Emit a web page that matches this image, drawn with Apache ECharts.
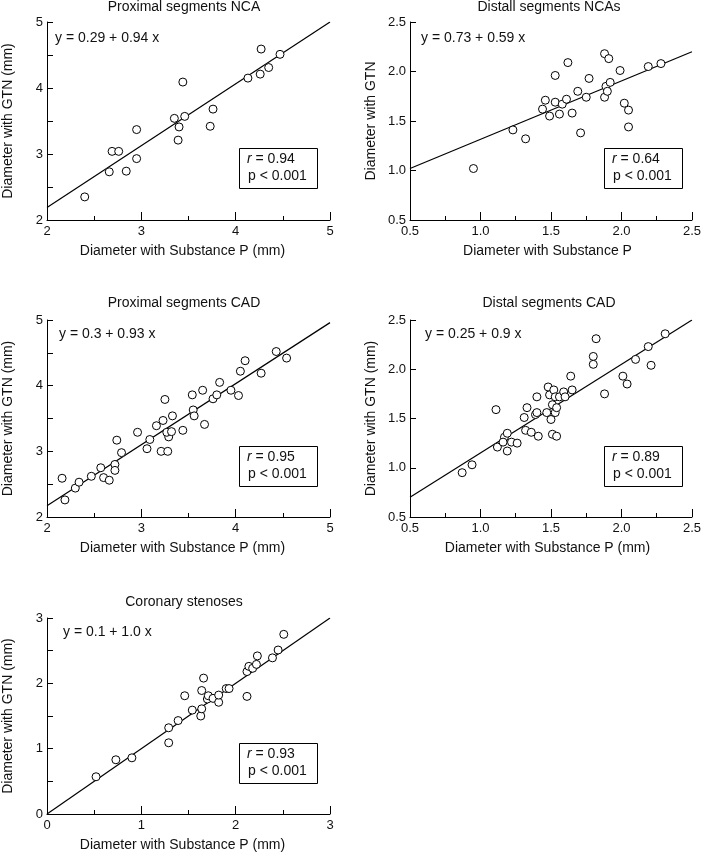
<!DOCTYPE html>
<html>
<head>
<meta charset="utf-8">
<script src="https://cdn.jsdelivr.net/npm/echarts@6/dist/echarts.min.js"></script>
<style>
html,body{margin:0;padding:0;background:#fff;}
#chart{width:704px;height:853px;}
</style>
</head>
<body>
<div id="chart"></div>
<script>
// ---- Data ----
const panelTitles = ['Proximal segments NCA', 'Distall segments NCAs', 'Proximal segments CAD', 'Distal segments CAD', 'Coronary stenoses'];
const xNames = ['Diameter with Substance P (mm)', 'Diameter with Substance P', 'Diameter with Substance P (mm)', 'Diameter with Substance P (mm)', 'Diameter with Substance P (mm)'];
const yNames = ['Diameter with GTN (mm)', 'Diameter with GTN', 'Diameter with GTN (mm)', 'Diameter with GTN (mm)', 'Diameter with GTN (mm)'];
const equations = ['y = 0.29 + 0.94 x', 'y = 0.73 + 0.59 x', 'y = 0.3 + 0.93 x', 'y = 0.25 + 0.9 x', 'y = 0.1 + 1.0 x'];
const rValues = ['0.94', '0.64', '0.95', '0.89', '0.93'];
const pValues = ['p < 0.001', 'p < 0.001', 'p < 0.001', 'p < 0.001', 'p < 0.001'];

const xMin = [2, 0.5, 2, 0.5, 0];
const xMax = [5, 2.5, 5, 2.5, 3];
const xStep = [1, 0.5, 1, 0.5, 1];
const yMin = [2, 0.5, 2, 0.5, 0];
const yMax = [5, 2.5, 5, 2.5, 3];
const yLabelStep = [1, 0.5, 1, 0.5, 1];
const labelDecimals = [0, 1, 0, 1, 0];

// drawn regression lines (endpoints)
const fitX = [[2, 5], [0.5, 2.5], [2, 5], [0.5, 2.5], [0, 3]];
const fitY = [[2.19, 5.0], [1.02, 2.2], [2.17, 4.96], [0.70, 2.5], [0.0, 3.0]];

// Panel 1: Proximal segments NCA
const p1x = [2.40, 2.66, 2.69, 2.76, 2.84, 2.95, 2.95, 3.35, 3.40, 3.39, 3.46, 3.44, 3.76, 3.73, 4.13, 4.26, 4.27, 4.35, 4.47];
const p1y = [2.35, 2.73, 3.04, 3.04, 2.74, 3.37, 2.93, 3.54, 3.41, 3.21, 3.57, 4.09, 3.68, 3.42, 4.15, 4.21, 4.59, 4.31, 4.51];

// Panel 2: Distall segments NCAs
const p2x = [0.95, 1.23, 1.32, 1.44, 1.46, 1.49, 1.53, 1.53, 1.56, 1.58, 1.61, 1.62, 1.65, 1.69, 1.71, 1.75, 1.77, 1.88, 1.88, 1.89, 1.90, 1.91, 1.92, 1.99, 2.02, 2.05, 2.05, 2.19, 2.28];
const p2y = [1.02, 1.41, 1.32, 1.62, 1.71, 1.55, 1.69, 1.96, 1.57, 1.67, 1.72, 2.09, 1.58, 1.80, 1.38, 1.74, 1.93, 1.74, 2.18, 1.85, 1.80, 2.13, 1.89, 2.01, 1.68, 1.61, 1.44, 2.05, 2.08];

// Panel 3: Proximal segments CAD
const p3x = [2.16, 2.19, 2.30, 2.34, 2.47, 2.57, 2.60, 2.66, 2.72, 2.72, 2.74, 2.79, 2.96, 3.06, 3.09, 3.16, 3.21, 3.23, 3.25, 3.28, 3.29, 3.27, 3.32, 3.33, 3.44, 3.54, 3.55, 3.56, 3.65, 3.67, 3.76, 3.80, 3.83, 3.95, 4.03, 4.05, 4.10, 4.27, 4.43, 4.54];
const p3y = [2.59, 2.26, 2.44, 2.53, 2.62, 2.75, 2.60, 2.56, 2.80, 2.71, 3.17, 2.98, 3.29, 3.04, 3.18, 3.39, 3.00, 3.47, 3.79, 3.00, 3.22, 3.29, 3.30, 3.54, 3.32, 3.86, 3.63, 3.54, 3.93, 3.41, 3.80, 3.86, 4.05, 3.93, 3.85, 4.22, 4.38, 4.19, 4.52, 4.42];

// Panel 4: Distal segments CAD
const p4x = [0.87, 0.94, 1.11, 1.12, 1.17, 1.16, 1.19, 1.19, 1.22, 1.26, 1.31, 1.33, 1.32, 1.36, 1.39, 1.40, 1.40, 1.41, 1.47, 1.48, 1.49, 1.50, 1.51, 1.51, 1.52, 1.53, 1.53, 1.54, 1.54, 1.56, 1.59, 1.60, 1.64, 1.65, 1.80, 1.80, 1.82, 1.88, 2.01, 2.04, 2.10, 2.19, 2.21, 2.31];
const p4y = [0.95, 1.03, 1.59, 1.21, 1.31, 1.26, 1.35, 1.17, 1.26, 1.25, 1.51, 1.61, 1.38, 1.36, 1.54, 1.72, 1.56, 1.32, 1.56, 1.82, 1.74, 1.49, 1.64, 1.34, 1.79, 1.72, 1.56, 1.61, 1.32, 1.72, 1.77, 1.72, 1.93, 1.79, 2.13, 2.05, 2.31, 1.75, 1.93, 1.85, 2.10, 2.23, 2.04, 2.36];

// Panel 5: Coronary stenoses
const p5x = [0.52, 0.73, 0.90, 1.29, 1.29, 1.39, 1.46, 1.54, 1.63, 1.64, 1.64, 1.66, 1.70, 1.71, 1.76, 1.82, 1.82, 1.90, 1.93, 2.12, 2.12, 2.14, 2.18, 2.22, 2.23, 2.39, 2.45, 2.51];
const p5y = [0.57, 0.83, 0.86, 1.32, 1.09, 1.43, 1.81, 1.59, 1.50, 1.61, 1.89, 2.08, 1.76, 1.81, 1.77, 1.71, 1.82, 1.92, 1.92, 1.80, 2.18, 2.26, 2.23, 2.29, 2.42, 2.39, 2.51, 2.75];

const panelX = [p1x, p2x, p3x, p4x, p5x];
const panelY = [p1y, p2y, p3y, p4y, p5y];

// ---- Layout ----
const gridLeft = [45, 410, 45, 410, 45];
const gridTop = [22, 22, 320, 320, 618];
const gridW = 285;
const gridH = [198, 198, 197, 197, 196];
const FONT = '"Liberation Sans", Arial, Helvetica, sans-serif';
const TXT = '#111';

const grids = [], xAxes = [], yAxes = [], series = [], graphics = [];

for (let i = 0; i < 5; i++) {
  grids.push({ left: gridLeft[i], top: gridTop[i], width: gridW, height: gridH[i], containLabel: false });
  const dec = labelDecimals[i];
  const xs = xStep[i];
  const ys = yLabelStep[i];
  xAxes.push({
    type: 'value', gridIndex: i, min: xMin[i], max: xMax[i], interval: xs,
    name: xNames[i], nameLocation: 'middle', nameGap: 24,
    nameTextStyle: { fontFamily: FONT, fontSize: 14, color: TXT, padding: [0, (dec ? 7 : 12), 0, 0] },
    axisLine: { show: true, onZero: false, lineStyle: { color: '#000', width: 1 } },
    axisTick: { show: true, inside: true, length: 8, lineStyle: { color: '#000', width: 1 } },
    minorTick: { show: true, splitNumber: 2, length: 4, lineStyle: { color: '#000', width: 1 } },
    axisLabel: { fontFamily: FONT, fontSize: 13, color: TXT, margin: 5, formatter: v => v.toFixed(dec) },
    splitLine: { show: false }
  });
  yAxes.push({
    type: 'value', gridIndex: i, min: yMin[i], max: yMax[i], interval: 0.5,
    name: yNames[i], nameLocation: 'middle', nameGap: 32,
    nameTextStyle: { fontFamily: FONT, fontSize: 14, color: TXT },
    axisLine: { show: true, onZero: false, lineStyle: { color: '#000', width: 1 } },
    axisTick: { show: true, inside: true, length: 6, lineStyle: { color: '#000', width: 1 } },
    axisLabel: {
      fontFamily: FONT, fontSize: 13, color: TXT, margin: 4,
      formatter: v => (Math.abs(v / ys - Math.round(v / ys)) < 1e-6 ? v.toFixed(dec) : '')
    },
    splitLine: { show: false }
  });
  series.push({
    type: 'line', xAxisIndex: i, yAxisIndex: i, showSymbol: false, silent: true, z: 2,
    lineStyle: { color: '#000', width: 1.2 },
    data: [[fitX[i][0], fitY[i][0]], [fitX[i][1], fitY[i][1]]]
  });
  series.push({
    type: 'scatter', xAxisIndex: i, yAxisIndex: i, symbol: 'circle', symbolSize: 8, z: 3,
    itemStyle: { color: '#fff', borderColor: '#000', borderWidth: 1, opacity: 1 },
    data: panelX[i].map((x, k) => [x, panelY[i][k]])
  });
}

// titles and annotations (text only)
const titleCX = [184, 549, 184, 549, 184];
const titleCY = [7, 7, 303, 303, 602];
const eqLeft = [55, 421, 59, 425, 63];
const eqCY = [38, 38, 334, 334, 632];
const boxLeft = [239, 604, 239, 604, 239];
const boxTop = [148, 148, 446, 446, 743];

for (let i = 0; i < 5; i++) {
  graphics.push({
    type: 'text', left: titleCX[i], top: titleCY[i], z: 10,
    style: { text: panelTitles[i], x: 0, y: 0, font: '14px ' + FONT, fill: TXT, align: 'center', verticalAlign: 'middle' },
    position: [titleCX[i], titleCY[i]]
  });
}

const opt = {
  animation: false,
  backgroundColor: '#fff',
  grid: grids, xAxis: xAxes, yAxis: yAxes, series: series
};
const chart = echarts.init(document.getElementById('chart'), null, { renderer: 'canvas' });
chart.setOption(opt);

const g = [];
for (let i = 0; i < 5; i++) {
  g.push({
    type: 'text', x: titleCX[i], y: titleCY[i], z: 10,
    style: { text: panelTitles[i], font: '14px ' + FONT, fill: TXT, align: 'center', verticalAlign: 'middle' }
  });
  g.push({
    type: 'text', x: eqLeft[i], y: eqCY[i], z: 10,
    style: { text: equations[i], font: '14px ' + FONT, fill: TXT, align: 'left', verticalAlign: 'middle' }
  });
  g.push({
    type: 'rect', x: boxLeft[i] + 0.5, y: boxTop[i] + 0.5, z: 10,
    shape: { x: 0, y: 0, width: 78, height: 40 },
    style: { fill: '#fff', stroke: '#000', lineWidth: 1 }
  });
  g.push({
    type: 'text', x: boxLeft[i] + 8, y: boxTop[i] + 11, z: 11,
    style: {
      text: '{i|r} = ' + rValues[i], font: '14px ' + FONT, fill: TXT, align: 'left', verticalAlign: 'middle',
      rich: { i: { fontStyle: 'italic', fontFamily: FONT, fontSize: 14, fill: TXT } }
    }
  });
  g.push({
    type: 'text', x: boxLeft[i] + 9, y: boxTop[i] + 28, z: 11,
    style: { text: pValues[i], font: '14px ' + FONT, fill: TXT, align: 'left', verticalAlign: 'middle' }
  });
}
chart.setOption({ graphic: g });
</script>
</body>
</html>
